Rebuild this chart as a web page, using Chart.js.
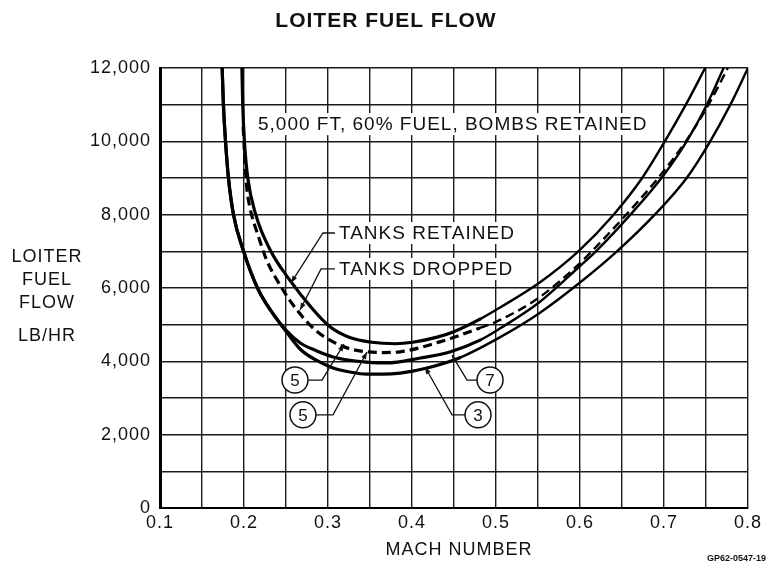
<!DOCTYPE html>
<html>
<head>
<meta charset="utf-8">
<script src="https://cdn.jsdelivr.net/npm/chart.js@4/dist/chart.umd.min.js"></script>
<style>
  html, body { margin: 0; padding: 0; background: #fff; }
  #wrap { width: 770px; height: 563px; position: relative; }
</style>
</head>
<body>
<div id="wrap"><canvas id="fuelChart"></canvas></div>
<script>
// ── Loiter fuel flow ──

// Tanks retained, (5)
const machRet5 = [0.1975, 0.1985, 0.2005, 0.2045, 0.214, 0.232, 0.255, 0.279, 0.302, 0.326, 0.352, 0.380, 0.401, 0.430, 0.449, 0.481, 0.505, 0.552, 0.598, 0.640, 0.674, 0.701, 0.726, 0.749];
const flowRet5 = [12000, 11000, 10000, 9000, 8000, 7000, 6200, 5500, 4950, 4650, 4520, 4480, 4520, 4660, 4800, 5150, 5470, 6150, 7000, 8000, 9000, 10000, 11000, 12000];

// Tanks dropped, (5) — dashed
const machDrop5 = [0.199, 0.201, 0.203, 0.207, 0.217, 0.227, 0.245, 0.263, 0.285, 0.306, 0.326, 0.346, 0.366, 0.386, 0.433, 0.481, 0.505, 0.552, 0.600, 0.614, 0.655, 0.693, 0.726, 0.753, 0.776];
const flowDrop5 = [10400, 9500, 8800, 8200, 7420, 6760, 6000, 5400, 4850, 4530, 4340, 4260, 4240, 4260, 4530, 4910, 5130, 5750, 6680, 7000, 8000, 9000, 10000, 11000, 12000];

// (7)
const mach7 = [0.174, 0.1755, 0.178, 0.1815, 0.1875, 0.1995, 0.216, 0.232, 0.249, 0.267, 0.286, 0.306, 0.326, 0.346, 0.370, 0.410, 0.445, 0.481, 0.505, 0.552, 0.600, 0.619, 0.660, 0.697, 0.727, 0.751, 0.771];
const flow7 = [12000, 11000, 10000, 9000, 8000, 7000, 6000, 5380, 4870, 4500, 4290, 4120, 4030, 3980, 3955, 4090, 4255, 4580, 4900, 5620, 6600, 7000, 8000, 9000, 10000, 11000, 12000];

// (3)
const mach3 = [0.174, 0.1755, 0.178, 0.1815, 0.1875, 0.1995, 0.216, 0.232, 0.249, 0.267, 0.286, 0.306, 0.326, 0.346, 0.366, 0.386, 0.418, 0.457, 0.505, 0.552, 0.600, 0.644, 0.689, 0.727, 0.755, 0.779, 0.800];
const flow3 = [12000, 11000, 10000, 9000, 8000, 7000, 6000, 5380, 4850, 4330, 4030, 3820, 3710, 3650, 3650, 3680, 3820, 4100, 4660, 5320, 6150, 7000, 8000, 9000, 10000, 11000, 12000];

// ── Axes ──
const machMin = 0.1, machMax = 0.8, machStep = 0.05;
const flowMin = 0, flowMax = 12000, flowStep = 1000;

// ── Annotation text (positions in data units) ──
const boxLabels = [
  { text: '5,000 FT, 60% FUEL, BOMBS RETAINED', m: 0.2167, v: 10470 },
  { text: 'TANKS RETAINED', m: 0.3131, v: 7500 },
  { text: 'TANKS DROPPED', m: 0.3131, v: 6520 },
];
// leader: polyline points [m, v], last point gets an arrowhead
const leaders = [
  [[0.3083, 7500], [0.2940, 7500], [0.2560, 6140]],
  [[0.3083, 6520], [0.2917, 6520], [0.2667, 5400]],
  [[0.2762, 3490], [0.2929, 3490], [0.3190, 4470]],
  [[0.2857, 2540], [0.3060, 2540], [0.3464, 4255]],
  [[0.4774, 3490], [0.4655, 3490], [0.4476, 4170]],
  [[0.4631, 2540], [0.4476, 2540], [0.4155, 3845]],
];
const circles = [
  { text: '5', m: 0.2607, v: 3490 },
  { text: '5', m: 0.2702, v: 2540 },
  { text: '7', m: 0.4929, v: 3490 },
  { text: '3', m: 0.4786, v: 2540 },
];

const pts = (ms, vs) => ms.map((m, i) => ({ x: m, y: vs[i] }));
const FONT = '"Liberation Sans", Arial, Helvetica, sans-serif';

function arrowHead(ctx, x0, y0, x1, y1) {
  const a = Math.atan2(y1 - y0, x1 - x0);
  const len = 7, hw = 2.6;
  ctx.beginPath();
  ctx.moveTo(x1, y1);
  ctx.lineTo(x1 - len * Math.cos(a) + hw * Math.sin(a), y1 - len * Math.sin(a) - hw * Math.cos(a));
  ctx.lineTo(x1 - len * Math.cos(a) - hw * Math.sin(a), y1 - len * Math.sin(a) + hw * Math.cos(a));
  ctx.closePath();
  ctx.fill();
}

const notes = {
  id: 'notes',
  beforeDraw(chart) {
    chart.ctx.letterSpacing = '1px';
  },
  beforeDatasetsDraw(chart) {
    const { ctx, scales: { x, y } } = chart;
    ctx.save();
    ctx.font = '19px ' + FONT;
    ctx.letterSpacing = '1px';
    ctx.textBaseline = 'middle';
    boxLabels.forEach(l => {
      const px = x.getPixelForValue(l.m), py = y.getPixelForValue(l.v);
      const w = ctx.measureText(l.text).width;
      ctx.fillStyle = '#fff';
      ctx.fillRect(px - 5, py - 11, w + 8, 22);
      ctx.fillStyle = '#111';
      ctx.fillText(l.text, px, py + 1);
    });
    ctx.restore();
  },
  afterDatasetsDraw(chart) {
    const { ctx, scales: { x, y } } = chart;
    ctx.save();
    ctx.strokeStyle = '#111';
    ctx.fillStyle = '#111';
    ctx.lineWidth = 1.3;
    leaders.forEach(line => {
      const p = line.map(([m, v]) => [x.getPixelForValue(m), y.getPixelForValue(v)]);
      ctx.beginPath();
      p.forEach(([px, py], i) => i ? ctx.lineTo(px, py) : ctx.moveTo(px, py));
      ctx.stroke();
      const n = p.length;
      arrowHead(ctx, p[n - 2][0], p[n - 2][1], p[n - 1][0], p[n - 1][1]);
    });
    ctx.font = '17px ' + FONT;
    ctx.letterSpacing = '0px';
    ctx.textAlign = 'center';
    ctx.textBaseline = 'middle';
    circles.forEach(c => {
      const px = x.getPixelForValue(c.m), py = y.getPixelForValue(c.v);
      ctx.beginPath();
      ctx.arc(px, py, 13, 0, Math.PI * 2);
      ctx.fillStyle = '#fff';
      ctx.fill();
      ctx.lineWidth = 1.5;
      ctx.stroke();
      ctx.fillStyle = '#111';
      ctx.fillText(c.text, px, py + 1);
    });
    ctx.restore();
  },
  afterDraw(chart) {
    const ctx = chart.ctx;
    ctx.save();
    ctx.fillStyle = '#111';
    ctx.textAlign = 'center';
    ctx.textBaseline = 'middle';
    ctx.letterSpacing = '1px';
    ctx.font = 'bold 21px ' + FONT;
    ctx.fillText('LOITER FUEL FLOW', 386, 21);
    ctx.font = '18px ' + FONT;
    ctx.fillText('MACH NUMBER', 459, 550);
    ['LOITER', 'FUEL', 'FLOW'].forEach((t, i) => ctx.fillText(t, 47, 257 + i * 23));
    ctx.fillText('LB/HR', 47, 336);
    ctx.letterSpacing = '0px';
    ctx.textAlign = 'right';
    ctx.font = 'bold 9px ' + FONT;
    ctx.fillText('GP62-0547-19', 766, 559);
    ctx.restore();
  }
};

// heavier stroke on the low-speed side, as in the original print
const lineStyle = {
  showLine: true,
  pointRadius: 0,
  borderColor: '#000',
  borderWidth: 3,
  borderCapStyle: 'round',
  borderJoinStyle: 'round',
  fill: false,
  cubicInterpolationMode: 'monotone',
  segment: { borderWidth: ctx => ctx.p0.parsed.x < 0.45 ? 3.2 : 2.4 },
};

new Chart(document.getElementById('fuelChart'), {
  type: 'scatter',
  data: {
    datasets: [
      { ...lineStyle, label: 'Tanks retained (5)', data: pts(machRet5, flowRet5) },
      { ...lineStyle, label: 'Tanks dropped (5)', data: pts(machDrop5, flowDrop5), borderDash: [9, 5], borderCapStyle: 'butt' },
      { ...lineStyle, label: '(7)', data: pts(mach7, flow7) },
      { ...lineStyle, label: '(3)', data: pts(mach3, flow3) },
    ]
  },
  options: {
    responsive: true,
    maintainAspectRatio: false,
    animation: false,
    layout: { padding: { top: 68, right: 22, bottom: 0, left: 0 } },
    plugins: { legend: { display: false }, tooltip: { enabled: false } },
    scales: {
      x: {
        type: 'linear',
        min: machMin, max: machMax,
        afterFit: s => { s.height = 55; },
        grid: { color: '#1a1a1a', lineWidth: 1.4, drawTicks: false },
        border: { color: '#000', width: 2 },
        ticks: {
          stepSize: machStep,
          autoSkip: false,
          maxRotation: 0,
          padding: 4,
          color: '#111',
          font: { family: FONT, size: 18 },
          callback: v => Math.abs(v * 10 - Math.round(v * 10)) < 1e-6 ? v.toFixed(1) : ''
        }
      },
      y: {
        min: flowMin, max: flowMax,
        afterFit: s => { s.width = 160; },
        grid: { color: '#1a1a1a', lineWidth: 1.4, drawTicks: false },
        border: { color: '#000', width: 3 },
        ticks: {
          stepSize: flowStep,
          autoSkip: false,
          padding: 9,
          color: '#111',
          font: { family: FONT, size: 18 },
          callback: v => v % 2000 === 0 ? v.toLocaleString('en-US') : ''
        }
      }
    }
  },
  plugins: [notes]
});
</script>
</body>
</html>
